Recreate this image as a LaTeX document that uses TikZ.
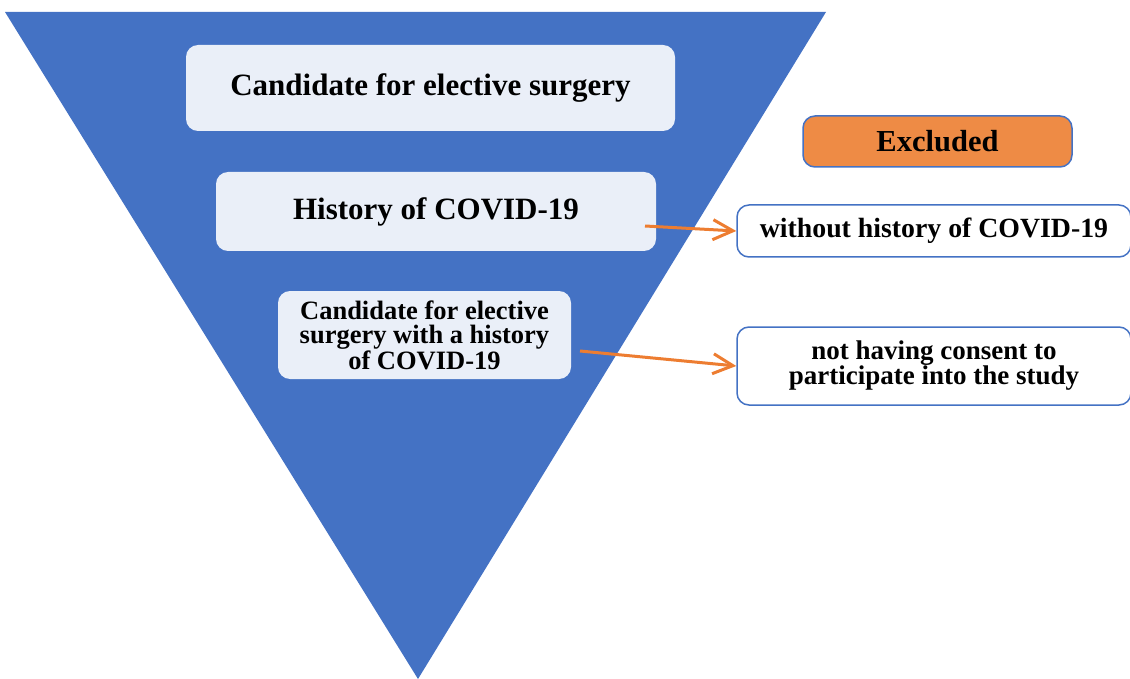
\documentclass[tikz,border=0pt]{standalone}
\usepackage{fontspec}
\setmainfont{Liberation Serif}
\usetikzlibrary{arrows.meta}
\usetikzlibrary{calc,positioning}
\definecolor{funnel}{HTML}{4472C4}
\definecolor{paleblue}{HTML}{EAEFF8}
\definecolor{exclorange}{HTML}{EE8B45}
\definecolor{arroworange}{HTML}{ED7D31}

\tikzset{
  stage/.style={fill=paleblue, rounded corners=12pt, inner sep=0pt, align=center},
  reason/.style={draw=funnel, line width=1.5pt, fill=white, rounded corners=12pt, inner sep=0pt, align=center},
  exclude/.style={draw=arroworange, line width=3pt},
}

\begin{document}
\begin{tikzpicture}[x=1pt,y=-1pt,>={Straight Barb[length=20pt,width=20pt]}]

    \useasboundingbox (0,0) rectangle (1130,679);
    \fill[funnel] (5,12) -- (826,12) -- (418,679) -- cycle;

    \node[stage, minimum width=489pt, minimum height=86pt, font=\fontsize{31}{34}\selectfont\bfseries] (cand) at (430.5,88)
        {Candidate for elective surgery};
    \node[stage, minimum width=440pt, minimum height=79pt, font=\fontsize{31}{34}\selectfont\bfseries] (hist-0) at (436,211.5)
        {History of COVID-19};
    \node[stage, minimum width=293pt, minimum height=88pt, font=\fontsize{26.5}{24.5}\selectfont\bfseries] (cand-hist) at (424.5,335)
        {Candidate for elective\\surgery with a history\\of COVID-19};

    \node[reason, fill=exclorange, minimum width=269pt, minimum height=51pt, font=\fontsize{30.5}{34}\selectfont\bfseries] (excl) at (937.5,141.5)
        {Excluded};
    \node[reason, minimum width=394pt, minimum height=52pt, font=\fontsize{27.8}{30}\selectfont\bfseries] (no-hist) at (934,231)
        {without history of COVID-19};
    \node[reason, minimum width=394pt, minimum height=78pt, font=\fontsize{27}{25}\selectfont\bfseries] (no-consent) at (934,366)
        {not having consent to\\participate into the study};

    \coordinate (hist-out) at (645,226);
    \coordinate (cand-out) at (580,351);
    \path (hist-out) edge[->, exclude] (no-hist.west);
    \path (cand-out) edge[->, exclude] (no-consent.west);

\end{tikzpicture}
\end{document}
